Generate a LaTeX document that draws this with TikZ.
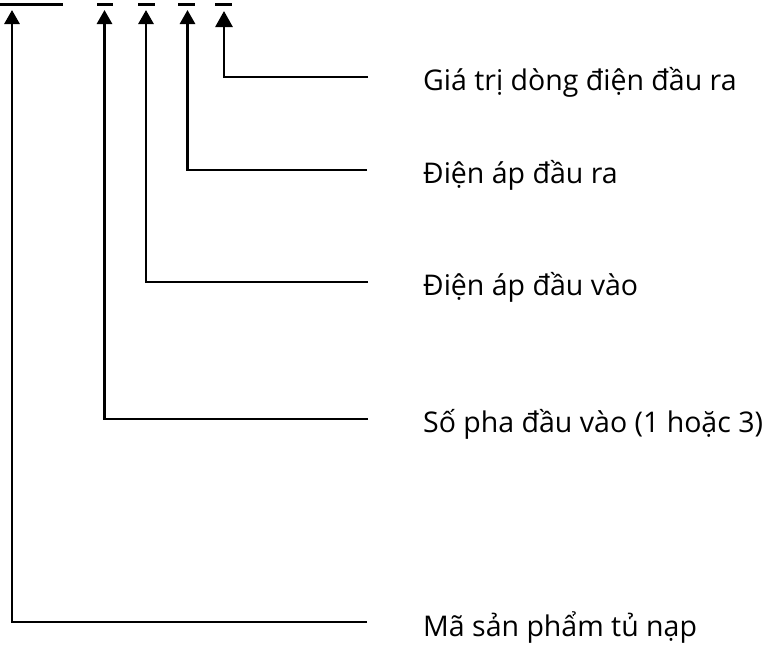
\documentclass[tikz,border=0pt]{standalone}
\usepackage{fontspec}
\setmainfont{Open Sans}
\usetikzlibrary{arrows.meta}
\begin{document}
\begin{tikzpicture}[x=1pt,y=-1pt,
  ln/.style={line width=2.8pt},
  arr/.style={ln,-{Triangle[length=14pt,width=15pt]}},
  arrbig/.style={ln,-{Triangle[length=16pt,width=17pt]}},
  lbl/.style={anchor=base west,inner sep=0pt,font=\fontsize{28.5}{32}\selectfont}]
\useasboundingbox (0,0) rectangle (768,645);
% top code marks
\draw[ln] (0,4.5) -- (63,4.5);
\draw[ln] (97,4.5) -- (113,4.5);
\draw[ln] (138,4.5) -- (155,4.5);
\draw[ln] (178,4.5) -- (195,4.5);
\draw[ln] (215,4.5) -- (232,4.5);
% arrow tips
\coordinate (t1) at (12,10);
\coordinate (t2) at (104.5,10);
\coordinate (t3) at (146,10);
\coordinate (t4) at (187.5,10);
\coordinate (t5) at (224,11);
% line ends
\coordinate (e1) at (368,77);
\coordinate (e2) at (367,170);
\coordinate (e3) at (368,282);
\coordinate (e4) at (368,419);
\coordinate (e5) at (367,622);
% labels
\node[lbl] (l1) at (423,90.5) {Giá trị dòng điện đầu ra};
\node[lbl] (l2) at (423,183.5) {Điện áp đầu ra};
\node[lbl] (l3) at (423,295.5) {Điện áp đầu vào};
\node[lbl] (l4) at (423,432.5) {Số pha đầu vào (1 hoặc 3)};
\node[lbl] (l5) at (423,636) {Mã sản phẩm tủ nạp};
% connectors
\draw[arrbig] (e1) -| (t5);
\draw[arr] (e2) -| (t4);
\draw[arr] (e3) -| (t3);
\draw[arr] (e4) -| (t2);
\draw[arr] (e5) -| (t1);
\end{tikzpicture}
\end{document}
